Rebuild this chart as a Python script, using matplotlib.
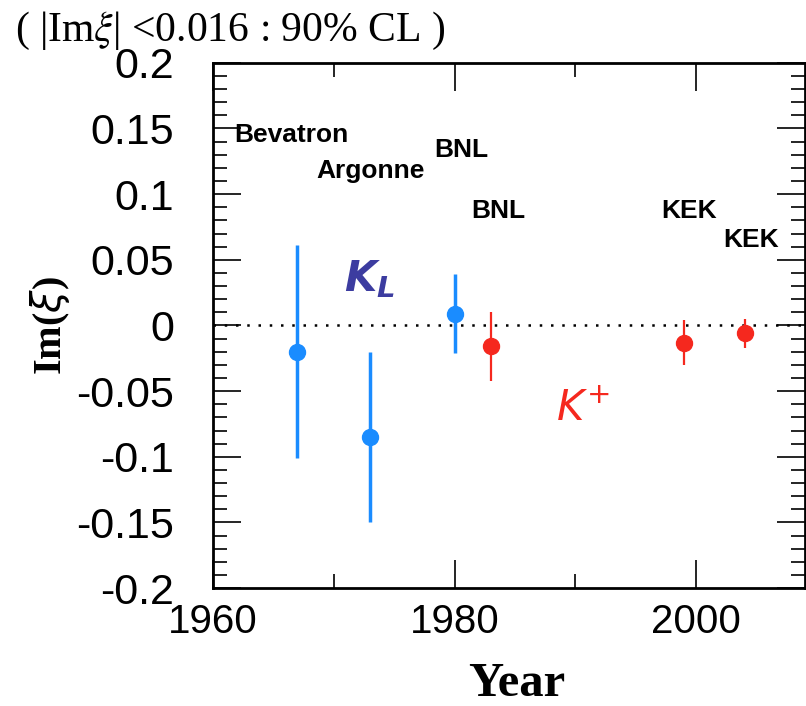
import matplotlib
matplotlib.use("Agg")
import matplotlib.pyplot as plt
from matplotlib.ticker import MultipleLocator

# K_L measurements
kl_year = [1967, 1973, 1980]
kl_val = [-0.02, -0.085, 0.009]
kl_err = [0.081, 0.065, 0.030]

# K+ measurements
kp_year = [1983, 1999, 2004]
kp_val = [-0.016, -0.013, -0.006]
kp_err = [0.026, 0.017, 0.011]

# experiment labels (year, value)
lab_text = ["Bevatron", "Argonne", "BNL", "BNL", "KEK", "KEK"]
lab_x = [1961.8, 1968.6, 1978.3, 1981.4, 1997.1, 2002.2]
lab_y = [0.145, 0.118, 0.134, 0.087, 0.087, 0.065]


def main():
    fig = plt.figure(figsize=(8.06, 7.06), dpi=100)
    ax = fig.add_axes([0.264, 0.167, 0.735, 0.744])

    ax.axhline(0, color="black", linestyle=(0, (1, 3.5)), linewidth=1.8, zorder=1)

    ax.errorbar(kl_year, kl_val, yerr=kl_err, fmt="o", color="#1a8cff",
                markersize=11.5, elinewidth=2.5, capsize=0, zorder=3)
    ax.errorbar(kp_year, kp_val, yerr=kp_err, fmt="o", color="#f5281e",
                markersize=11.5, elinewidth=1.6, capsize=0, zorder=3)

    for t, x, y in zip(lab_text, lab_x, lab_y):
        ax.text(x, y, t, fontsize=19, fontweight="bold", family="Liberation Sans",
                ha="left", va="center")

    ax.text(1973.0, 0.035, r"$\boldsymbol{K}_{\boldsymbol{L}}$", fontsize=30,
            color="#3c3ca0", ha="center", va="center", math_fontfamily="dejavusans")
    ax.text(1990.6, -0.063, r"$K^{+}$", fontsize=30, color="#f5281e",
            ha="center", va="center")

    ax.set_xlim(1960, 2009)
    ax.set_ylim(-0.2, 0.2)
    ax.xaxis.set_major_locator(MultipleLocator(20))
    ax.xaxis.set_minor_locator(MultipleLocator(10))
    ax.yaxis.set_minor_locator(MultipleLocator(0.01))
    ax.set_yticks([0.2, 0.15, 0.1, 0.05, 0, -0.05, -0.1, -0.15, -0.2])
    ax.set_yticklabels(["0.2", "0.15", "0.1", "0.05", "0", "-0.05", "-0.1", "-0.15", "-0.2"])
    ax.tick_params(which="both", direction="in", top=True, right=True)
    ax.tick_params(which="major", length=20, width=1.2, labelsize=31)
    ax.tick_params(axis="y", which="major", pad=28)
    ax.tick_params(axis="x", which="major", pad=11, labelsize=29)
    ax.tick_params(which="minor", length=10, width=1.2)
    for lbl in ax.get_xticklabels() + ax.get_yticklabels():
        lbl.set_family("Liberation Sans")
    for s in ax.spines.values():
        s.set_linewidth(2)

    ax.set_xlabel("Year", fontsize=35, fontweight="bold", family="Liberation Serif",
                  va="center")
    ax.xaxis.set_label_coords(0.513, -0.182)
    ax.set_ylabel(r"Im($\xi$)", fontsize=29, fontweight="bold", family="Liberation Serif",
                  va="center")
    ax.yaxis.set_label_coords(-0.275, 0.5)

    fig.text(0.018, 0.956, r"( |Im$\xi$| <0.016 : 90% CL )", fontsize=30,
             family="Liberation Serif", ha="left", va="center",
             math_fontfamily="stix")

    fig.savefig("out.png", dpi=100)


if __name__ == "__main__":
    main()
